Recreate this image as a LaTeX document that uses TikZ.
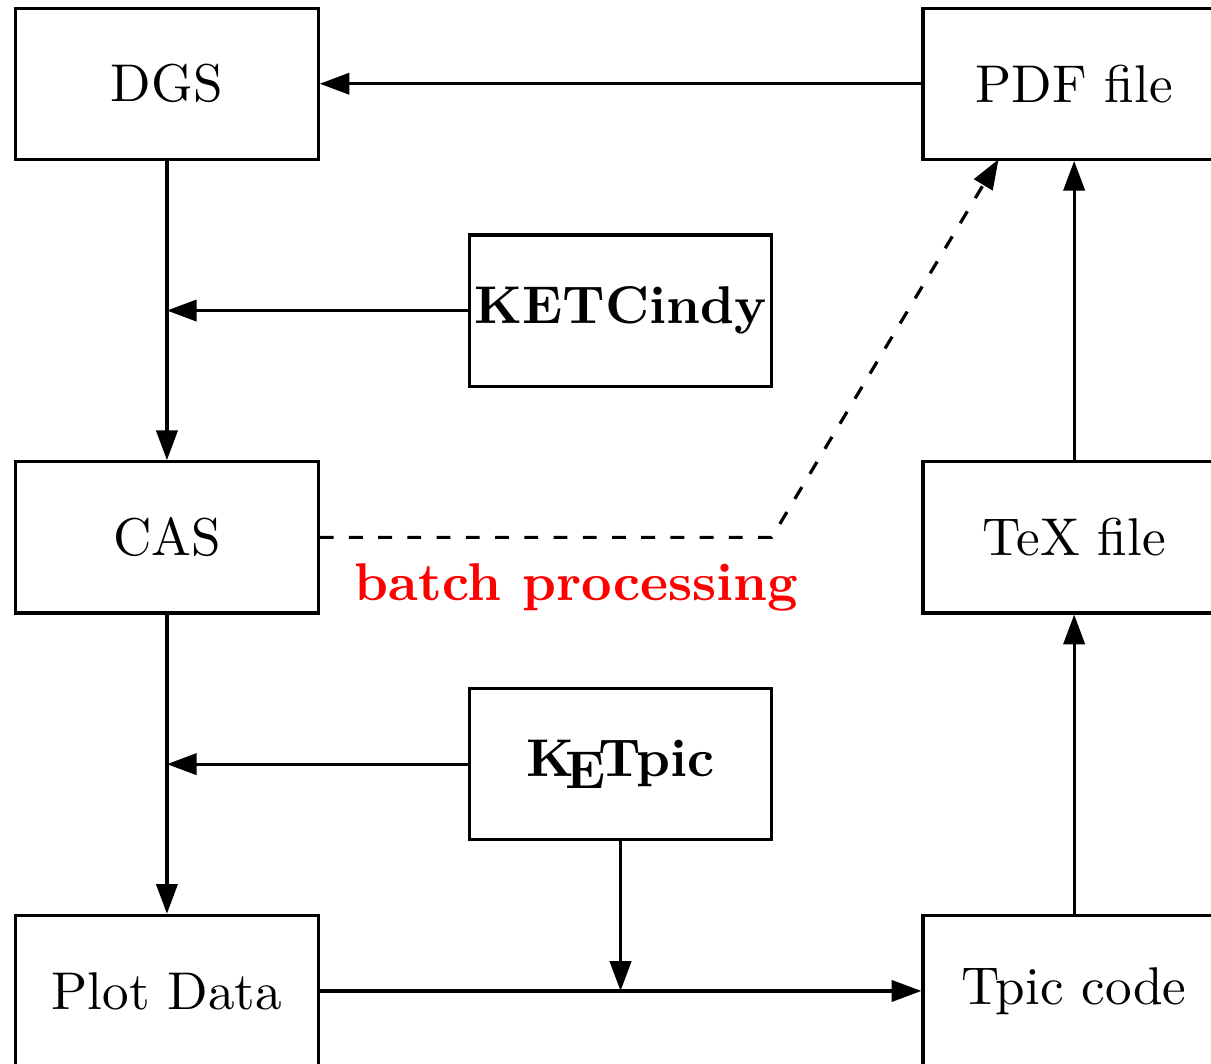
\documentclass[tikz,border=0pt]{standalone}
\usetikzlibrary{arrows.meta}
\tikzset{
  box/.style={draw,line width=.6pt,minimum width=2cm,minimum height=1cm,inner sep=0pt},
  arr/.style={line width=.6pt,-{Triangle[length=5.6pt,width=4pt]}},
  batcharr/.style={arr,dash pattern=on 2.6pt off 2.9pt}
}
\newcommand{\KETpiclogo}{K\kern-.17em\lower.5ex\hbox{E}\kern-.125emTpic}

\begin{document}
\begin{tikzpicture}
\clip(-1.104,-0.483)rectangle(6.905,6.554);
%boxes
\node[box](dgs)at(0,6){DGS};
\node[box](cas)at(0,3){CAS};
\node[box](plot)at(0,0){Plot Data};
\node[box,font=\bfseries](ketcindy)at(3,4.5){KETCindy};
\node[box,font=\bfseries](ketpic)at(3,1.5){\KETpiclogo};
\node[box](pdf)at(6,6){PDF file};
\node[box](tex)at(6,3){TeX file};
\node[box](tpic)at(6,0){Tpic code};
%joints
\coordinate(j1)at(0,4.5);
\coordinate(j2)at(0,1.5);
\coordinate(j3)at(3,0);
\coordinate(bend)at(4,3);
\coordinate(pdfin)at(5.5,5.5);
%arrows
\draw[arr](pdf)--(dgs);
\draw[arr](dgs)--(cas);
\draw[arr](ketcindy)--(j1);
\draw[arr](cas)--(plot);
\draw[arr](ketpic)--(j2);
\draw[arr](ketpic)--(j3);
\draw[arr](plot)--(tpic);
\draw[arr](tpic)--(tex);
\draw[arr](tex)--(pdf);
%batch
\draw[batcharr](cas.east)--(bend)--(pdfin);
\node[text=red,font=\bfseries](batch)at(2.71,2.67){batch processing};
\end{tikzpicture}
\end{document}
